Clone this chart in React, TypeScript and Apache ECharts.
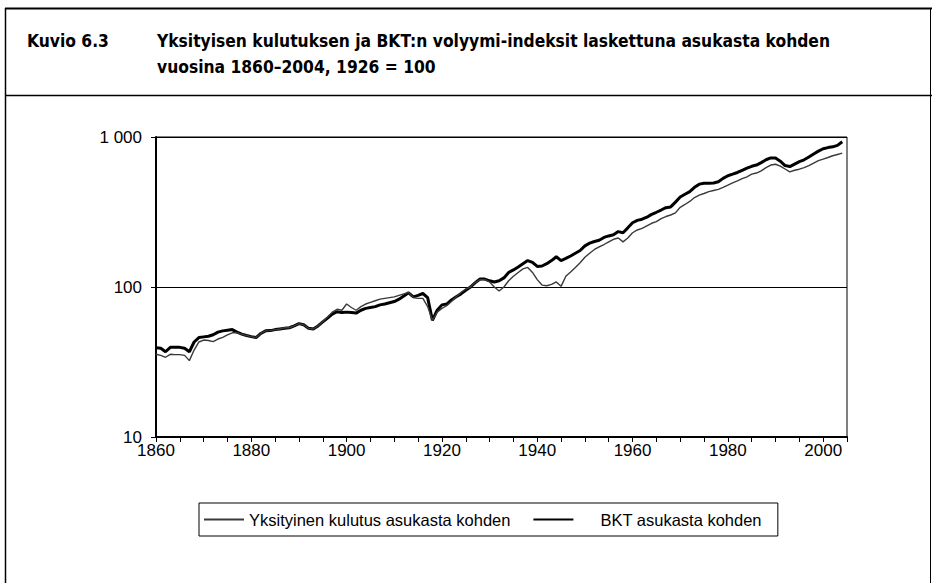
import React, { useEffect, useRef } from "react";
import * as echarts from "echarts";

const startYear = 1860;
const endYear = 2004;

const titleNumber = "Kuvio 6.3";
const titleText = "Yksityisen kulutuksen ja BKT:n volyymi-indeksit laskettuna asukasta kohden\nvuosina 1860–2004, 1926 = 100";

const consumptionName = "Yksityinen kulutus asukasta kohden";
const gdpName = "BKT asukasta kohden";

const yTicks = [10, 100, 1000];
const xLabelStep = 20;

// BKT asukasta kohden, 1860–2004 (1926 = 100)
const gdp = [
  39.4, 39, 37, 39.6, 39.6, 39.6, 39, 37, 43, 46,
  46.5, 47, 48, 50, 51, 51.5, 52, 50, 48.5, 47.5,
  46.7, 46, 49, 51, 51.2, 52, 52.5, 53, 53.5, 55,
  57, 56, 53, 52.5, 55, 58.5, 62, 66, 68.4, 67.5,
  68, 67.5, 67, 70, 72, 73, 74, 76, 77, 78.5,
  80, 83, 87, 91.5, 86, 88, 90.5, 85, 60, 70,
  76, 77, 82, 86, 90, 95, 100, 107, 113, 113,
  110, 108, 110, 115, 125, 130, 136, 143, 150, 146,
  137, 138, 143, 150, 159, 150, 155, 161, 168, 175,
  188, 196, 201, 205, 214, 219, 223, 234, 230, 248,
  268, 278, 283, 292, 305, 315, 326, 338, 342, 368,
  398, 415, 432, 462, 485, 491, 491, 494, 503, 530,
  552, 565, 580, 600, 620, 638, 650, 675, 705, 725,
  725, 690, 645, 635, 660, 685, 705, 735, 770, 805,
  835, 850, 860, 880, 930,
];

// Yksityinen kulutus asukasta kohden, 1860–2004 (1926 = 100)
const consumption = [
  35.6, 35, 34, 35.6, 35.4, 35.4, 35, 32.3, 38, 43,
  44.3, 44, 43.2, 45, 46.2, 48, 49.5, 49.5, 48.5, 47.5,
  46.7, 46, 49, 51, 51.2, 52, 52.5, 53.5, 53.5, 55,
  57, 56, 53, 52.5, 55, 59, 63, 68, 71, 70,
  77, 73, 70, 74, 77, 79, 81, 83, 84, 85,
  86, 88, 90, 92, 85, 84, 84, 74, 60, 68,
  72, 75, 80, 86, 92, 97, 100, 107, 112, 112,
  108, 100, 94, 100, 110, 118, 125, 132, 135, 125,
  112, 103, 102, 104, 108, 101, 118, 126, 135, 145,
  158, 168, 178, 185, 192, 200, 208, 212, 200, 212,
  230, 240, 246, 256, 266, 273, 286, 295, 302, 312,
  340, 355, 372, 395, 410, 420, 432, 440, 448, 462,
  478, 495, 510, 528, 543, 565, 575, 595, 625, 650,
  658, 640, 612, 585, 600, 610, 625, 645, 670, 695,
  712, 730, 750, 765, 780,
];

const years = consumption.map((_, i) => startYear + i);

export default function App() {
  const ref = useRef<HTMLDivElement>(null);

  useEffect(() => {
    if (!ref.current) return;
    const chart = echarts.init(ref.current, undefined, { renderer: "svg" });
    const axisFont = "'Liberation Sans', Arial, sans-serif";
    const titleFont = "'DejaVu Sans Condensed', 'Liberation Sans Narrow', 'DejaVu Sans', sans-serif";

    chart.setOption({
      animation: false,
      backgroundColor: "#fff",
      title: [
        {
          text: titleNumber,
          left: 22,
          top: 23,
          textStyle: { fontFamily: titleFont, fontWeight: "bold", fontSize: 17.3, color: "#000", lineHeight: 26 },
        },
        {
          text: titleText,
          left: 152,
          top: 23,
          textStyle: { fontFamily: titleFont, fontWeight: "bold", fontSize: 17.3, color: "#000", lineHeight: 26 },
        },
      ],
      graphic: [
        { type: "line", shape: { x1: 5, y1: 8.5, x2: 932, y2: 8.5 }, style: { stroke: "#000", lineWidth: 2 } },
        { type: "line", shape: { x1: 5, y1: 95.5, x2: 932, y2: 95.5 }, style: { stroke: "#000", lineWidth: 1.5 } },
        { type: "line", shape: { x1: 5.5, y1: 8, x2: 5.5, y2: 583 }, style: { stroke: "#000", lineWidth: 1.5 } },
        { type: "line", shape: { x1: 930.5, y1: 8, x2: 930.5, y2: 583 }, style: { stroke: "#000", lineWidth: 1 } },
      ],
      legend: {
        left: 199,
        top: 503,
        orient: "horizontal",
        itemWidth: 40,
        itemHeight: 14,
        itemGap: 22,
        padding: [8, 16, 8, 4],
        borderColor: "#000",
        borderWidth: 1,
        itemStyle: { color: "rgba(0,0,0,0)", borderColor: "rgba(0,0,0,0)", borderWidth: 0, opacity: 0 },
        textStyle: { fontFamily: axisFont, fontSize: 16.5, color: "#000" },
        data: [
          { name: consumptionName },
          { name: gdpName, textStyle: { padding: [0, 0, 0, 22] } },
        ],
      },
      grid: {
        left: 156,
        right: 85,
        top: 137,
        bottom: 146,
        show: true,
        borderColor: "#000",
        borderWidth: 1,
        containLabel: false,
      },
      xAxis: {
        type: "value",
        min: startYear,
        max: endYear + 1,
        interval: 5,
        axisLine: { show: true, lineStyle: { color: "#000", width: 2 } },
        axisTick: { show: true, inside: false, length: 5, lineStyle: { color: "#000", width: 1 } },
        splitLine: { show: false },
        axisLabel: {
          color: "#000",
          fontFamily: axisFont,
          fontSize: 17,
          margin: 5,
          formatter: (v: number) => ((v - startYear) % xLabelStep === 0 && v <= endYear ? String(v) : ""),
        },
      },
      yAxis: {
        type: "log",
        logBase: 10,
        min: yTicks[0],
        max: yTicks[yTicks.length - 1],
        axisLine: { show: true, lineStyle: { color: "#000", width: 2 } },
        axisTick: { show: true, inside: false, length: 5, lineStyle: { color: "#000" } },
        splitLine: { show: true, lineStyle: { color: "#000", width: 1 } },
        axisLabel: {
          color: "#000",
          fontFamily: axisFont,
          fontSize: 17,
          margin: 14,
          formatter: (v: number) => (v >= 1000 ? String(v).replace(/\B(?=(\d{3})+(?!\d))/g, " ") : String(v)),
        },
      },
      series: [
        {
          name: consumptionName,
          type: "line",
          symbol: "none",
          data: years.map((y, i) => [y, consumption[i]]),
          lineStyle: { color: "#3a3a3a", width: 1.4 },
          itemStyle: { color: "#3a3a3a" },
          z: 3,
        },
        {
          name: gdpName,
          type: "line",
          symbol: "none",
          data: years.map((y, i) => [y, gdp[i]]),
          lineStyle: { color: "#000", width: 3 },
          itemStyle: { color: "#000" },
          z: 2,
        },
      ],
    });

    return () => chart.dispose();
  }, []);

  return (
    <div
      ref={ref}
      style={{ position: "fixed", left: 0, top: 0, width: 932, height: 583, background: "#fff" }}
    />
  );
}
